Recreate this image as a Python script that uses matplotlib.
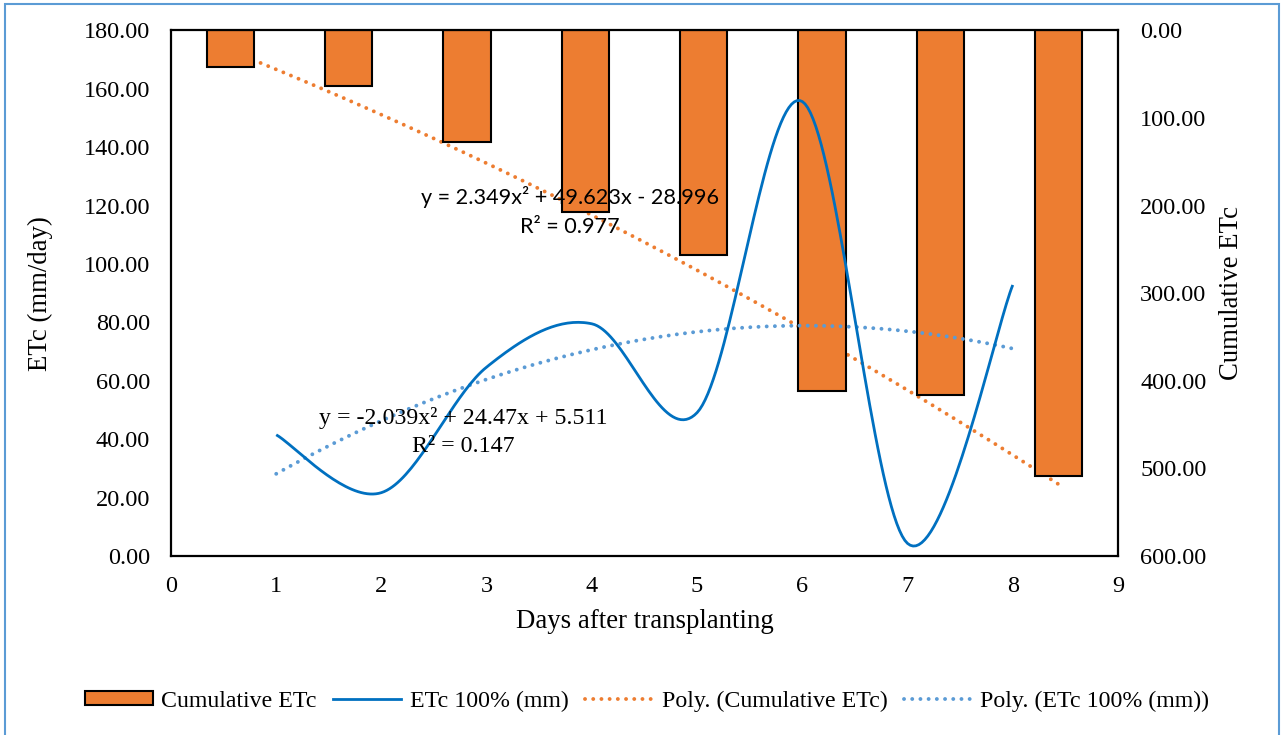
import numpy as np
import matplotlib
matplotlib.use("Agg")
import matplotlib.pyplot as plt
from matplotlib.patches import Patch, Rectangle
from matplotlib.lines import Line2D

# ---- data ----
days = [1, 2, 3, 4, 5, 6, 7, 8]
etc_100 = [41.5, 21.7, 64.7, 79.5, 49.1, 155.6, 4.3, 92.8]
cumulative_etc = [41.5, 63.2, 127.9, 207.4, 256.5, 412.1, 416.4, 509.2]
left_ticks = [0, 20, 40, 60, 80, 100, 120, 140, 160, 180]
right_ticks = [0, 100, 200, 300, 400, 500, 600]
x_ticks = [0, 1, 2, 3, 4, 5, 6, 7, 8, 9]
eq_cum = ["y = 2.349x\u00b2 + 49.623x - 28.996", "R\u00b2 = 0.977"]
eq_etc = ["y = -2.039x\u00b2 + 24.47x + 5.511", "R\u00b2 = 0.147"]
legend_labels = ["Cumulative ETc", "ETc 100% (mm)", "Poly. (Cumulative ETc)", "Poly. (ETc 100% (mm))"]

ORANGE = "#ED7D31"
BLUE = "#0070C0"
LBLUE = "#5B9BD5"
SERIF = "Liberation Serif"
SANS = "Lato"
DOT = (0, (0.01, 2.1))
DOT_LW = 2.8


def excel_smooth(xs, ys, n=40):
    p = np.column_stack([xs, ys]).astype(float)
    out = []
    for i in range(len(p) - 1):
        p0 = p[i - 1] if i > 0 else p[i]
        p1, p2 = p[i], p[i + 1]
        p3 = p[i + 2] if i + 2 < len(p) else p[i + 1]
        c1 = p1 + (p2 - p0) / 6.0
        c2 = p2 - (p3 - p1) / 6.0
        t = np.linspace(0, 1, n)[:, None]
        seg = ((1 - t) ** 3) * p1 + 3 * ((1 - t) ** 2) * t * c1 + 3 * (1 - t) * t ** 2 * c2 + t ** 3 * p2
        out.append(seg if i == 0 else seg[1:])
    out = np.vstack(out)
    return out[:, 0], out[:, 1]


W, H = 1282, 735
fig = plt.figure(figsize=(W / 100, H / 100), dpi=100)
L, R, T, B = 171, 1118, 30.3, 556
rect = [L / W, 1 - B / H, (R - L) / W, (B - T) / H]

# secondary (bars) axes, behind
axb = fig.add_axes(rect, zorder=1)
# primary (ETc) axes, on top
ax = fig.add_axes(rect, zorder=2)
ax.patch.set_visible(False)

n = len(days)
cat = np.arange(n) + 0.5
axb.set_xlim(0, n)
axb.set_ylim(600, 0)
# polynomial trendline for cumulative (x = 1..n on category axis)
c_cum = np.polyfit(days, cumulative_etc, 2)
tt = np.linspace(days[0], days[-1], 200)
axb.plot(tt - 0.5, np.polyval(c_cum, tt), color=ORANGE, lw=DOT_LW,
         linestyle=DOT, dash_capstyle="round", zorder=1)
axb.bar(cat, cumulative_etc, width=0.4, color=ORANGE, edgecolor="black", linewidth=1.5, zorder=2)
axb.set_xticks([])
axb.yaxis.tick_right()
axb.set_yticks(right_ticks)
axb.set_yticklabels([f"{v:.2f}" for v in right_ticks])
axb.tick_params(axis="y", length=0, pad=16, labelsize=17.5)
for lab in axb.get_yticklabels():
    lab.set_fontfamily(SERIF)
for s in axb.spines.values():
    s.set_visible(False)
axb.yaxis.set_label_position("right")
axb.set_ylabel("Cumulative ETc", fontsize=19.3, fontfamily=SERIF, rotation=90, va="center")
axb.yaxis.set_label_coords(1.1196, 0.5)

# primary
ax.set_xlim(0, 9)
ax.set_ylim(0, 180)
sx, sy = excel_smooth(days, etc_100)
ax.plot(sx, sy, color=BLUE, lw=2.0, solid_capstyle="butt", zorder=3)
c_etc = np.polyfit(days, etc_100, 2)
ax.plot(tt, np.polyval(c_etc, tt), color=LBLUE, lw=DOT_LW,
        linestyle=DOT, dash_capstyle="round", zorder=2)
ax.set_xticks(x_ticks)
ax.set_xticklabels([str(v) for v in x_ticks])
ax.set_yticks(left_ticks)
ax.set_yticklabels([f"{v:.2f}" for v in left_ticks])
ax.tick_params(axis="both", length=0, labelsize=17.5)
ax.tick_params(axis="y", pad=15)
ax.tick_params(axis="x", pad=14.5)
for lab in ax.get_xticklabels() + ax.get_yticklabels():
    lab.set_fontfamily(SERIF)
for s in ax.spines.values():
    s.set_color("black")
    s.set_linewidth(1.6)
ax.set_ylabel("ETc (mm/day)", fontsize=19.3, fontfamily=SERIF, va="center")
ax.yaxis.set_label_coords(-0.1384, 0.5)
ax.set_xlabel("Days after transplanting", fontsize=19.3, fontfamily=SERIF, va="center")
ax.xaxis.set_label_coords(0.5, -0.1255)

# trendline equations
ax.text(0.4215, 0.683, eq_cum[0], transform=ax.transAxes, ha="center", va="center",
        fontsize=15.6, fontfamily=SANS, zorder=5)
ax.text(0.4215, 0.626, eq_cum[1], transform=ax.transAxes, ha="center", va="center",
        fontsize=15.6, fontfamily=SANS, zorder=5)
ax.text(0.3084, 0.2625, eq_etc[0], transform=ax.transAxes, ha="center", va="center",
        fontsize=17.2, fontfamily=SERIF, zorder=5)
ax.text(0.3084, 0.2092, eq_etc[1], transform=ax.transAxes, ha="center", va="center",
        fontsize=17.2, fontfamily=SERIF, zorder=5)

# legend
handles = [
    Patch(facecolor=ORANGE, edgecolor="black", linewidth=1.5),
    Line2D([], [], color=BLUE, lw=2.0),
    Line2D([], [], color=ORANGE, lw=DOT_LW, linestyle=DOT, dash_capstyle="round"),
    Line2D([], [], color=LBLUE, lw=DOT_LW, linestyle=DOT, dash_capstyle="round"),
]
fig.legend(handles, legend_labels, loc="center", bbox_to_anchor=(647 / W, 1 - 701 / H), ncol=4,
           frameon=False, prop={"family": SERIF, "size": 17.2}, handlelength=2.85, handleheight=0.5,
           handletextpad=0.35, columnspacing=0.7, borderaxespad=0)

# chart border
fig.patches.append(Rectangle((5 / W, -0.02), (1279 - 5) / W, 0.02 + (1 - 4 / H),
                             transform=fig.transFigure, fill=False, edgecolor=LBLUE, linewidth=1.5))

fig.savefig("out.png", dpi=100)
